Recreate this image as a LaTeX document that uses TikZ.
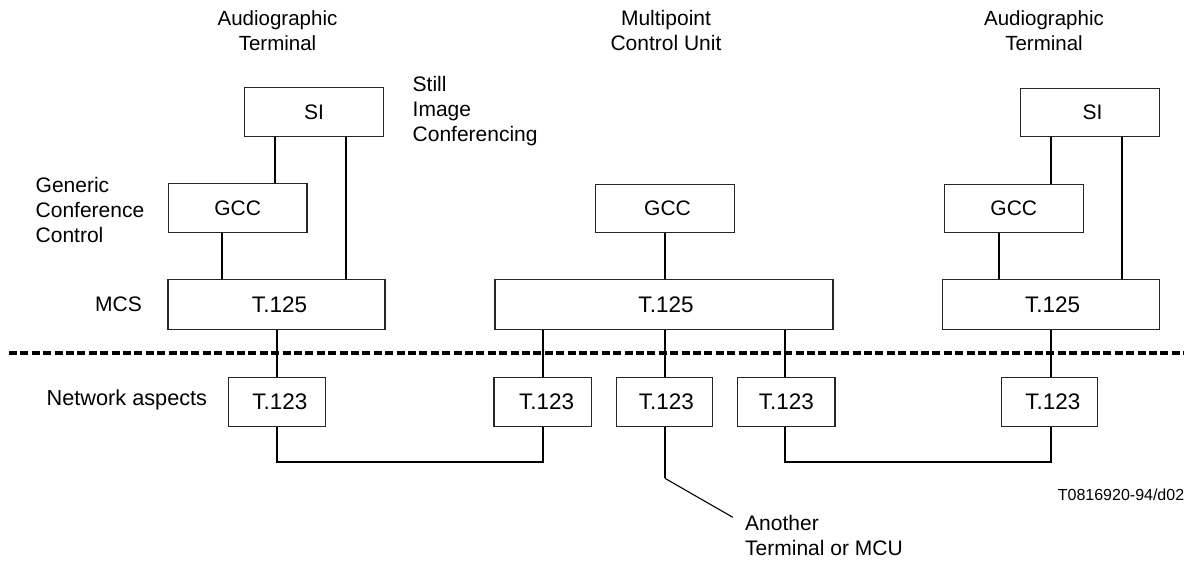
\documentclass[tikz,border=0pt]{standalone}
\usepackage{fontspec}
\setmainfont{Liberation Sans}
\begin{document}
\begin{tikzpicture}[x=1pt,y=-1pt,
  box/.style={draw=black!85,line width=1.1pt,fill=white,inner sep=0pt,font=\fontsize{21}{25}\selectfont},
  tbox/.style={box,font=\fontsize{22.5}{25}\selectfont},
  lbl/.style={font=\fontsize{21}{25}\selectfont,align=left,inner sep=0pt},
  ctr/.style={font=\fontsize{21}{25}\selectfont,align=center,inner sep=0pt},
  conn/.style={draw=black,line width=1.6pt}]
\useasboundingbox (0,0) rectangle (1195,563);
\node[box,minimum width=139.3pt,minimum height=49pt] (si1) at (314,112.2) {SI};
\node[box,minimum width=138.8pt,minimum height=49.4pt] (gcc1) at (237.6,208) {GCC};
\node[tbox,minimum width=217pt,minimum height=50pt] (t1) at (276.5,304.5) {\kern6pt T.125};
\node[tbox,minimum width=97pt,minimum height=48.5pt] (n1) at (277,401.9) {\kern5.6pt T.123};
\node[box,minimum width=139.3pt,minimum height=48.4pt] (si3) at (1090,112.5) {\kern5pt SI};
\node[box,minimum width=139.3pt,minimum height=48.4pt] (gcc3) at (1013.8,208.5) {GCC};
\node[tbox,minimum width=217.5pt,minimum height=50pt] (t3) at (1051,304.5) {\kern3.4pt T.125};
\node[tbox,minimum width=96pt,minimum height=48.5pt] (n5) at (1049.9,401.9) {\kern6pt T.123};
\node[box,minimum width=139pt,minimum height=48.4pt] (gcc2) at (665,208.5) {\kern5pt GCC};
\node[tbox,minimum width=338pt,minimum height=50pt] (t2) at (664,304.5) {\kern4pt T.125};
\node[tbox,minimum width=97.3pt,minimum height=48.5pt] (n2) at (542.6,401.9) {\kern8pt T.123};
\node[tbox,minimum width=96.3pt,minimum height=48.5pt] (n3) at (664.2,401.9) {\kern4.4pt T.123};
\node[tbox,minimum width=97.2pt,minimum height=48.5pt] (n4) at (786.4,401.9) {T.123};
\draw[conn] (si1.south -| 275,0) -- (gcc1.north -| 275,0);
\draw[conn] (si1.south -| 345.7,0) -- (t1.north -| 345.7,0);
\draw[conn] (gcc1.south -| 221.8,0) -- (t1.north -| 221.8,0);
\draw[conn] (t1.south -| n1) -- (n1.north);
\draw[conn] (si3.south -| 1051,0) -- (gcc3.north -| 1051,0);
\draw[conn] (si3.south -| 1121.8,0) -- (t3.north -| 1121.8,0);
\draw[conn] (gcc3.south -| 999,0) -- (t3.north -| 999,0);
\draw[conn] (t3.south -| 1051,0) -- (n5.north -| 1051,0);
\draw[conn] (gcc2.south -| 664.9,0) -- (t2.north -| 664.9,0);
\draw[conn] (t2.south -| 543,0) -- (n2.north -| 543,0);
\draw[conn] (t2.south -| 664.9,0) -- (n3.north -| 664.9,0);
\draw[conn] (t2.south -| 785,0) -- (n4.north -| 785,0);
\coordinate (la) at (277,461.7);
\coordinate (lb) at (543,461.7);
\coordinate (lc) at (785,461.7);
\coordinate (ld) at (1051,461.7);
\draw[conn] (n1.south) -- (la) -- (lb) -- (n2.south -| lb);
\draw[conn] (n4.south -| lc) -- (lc) -- (ld) -- (n5.south -| ld);
\coordinate (kn) at (664.9,478.3);
\coordinate (an) at (732.8,517.3);
\draw[conn] (n3.south -| kn) -- (kn);
\draw[black,line width=1.1pt] (kn) -- (an);
\coordinate (da) at (9,353); \coordinate (db) at (1184,353);
\draw[black,line width=3.7pt,dash pattern=on 8pt off 3.4pt] (da) -- (db);
\node[ctr,font=\fontsize{20.5}{25}\selectfont] (a1) at (277.5,30.2) {Audiographic\\Terminal};
\node[ctr] (a2) at (666,30.2) {Multipoint\\Control Unit};
\node[ctr,font=\fontsize{20.5}{25}\selectfont] (a3) at (1044,30.2) {Audiographic\\Terminal};
\node[lbl,anchor=west] (still) at (412.5,111) {Still\\Image\\Conferencing};
\node[lbl,anchor=west] (gen) at (35.5,210) {Generic\\Conference\\Control};
\node[lbl,anchor=west] (mcs) at (95,304) {MCS};
\node[lbl,anchor=west,font=\fontsize{21.7}{25}\selectfont] (net) at (46.5,400) {Network aspects};
\node[lbl,anchor=west] (an2) at (745,535.2) {Another\\Terminal or MCU};
\node[inner sep=0pt,anchor=east,font=\fontsize{16}{19}\selectfont] (ref) at (1184.4,495) {T0816920-94/d02};
\end{tikzpicture}
\end{document}
